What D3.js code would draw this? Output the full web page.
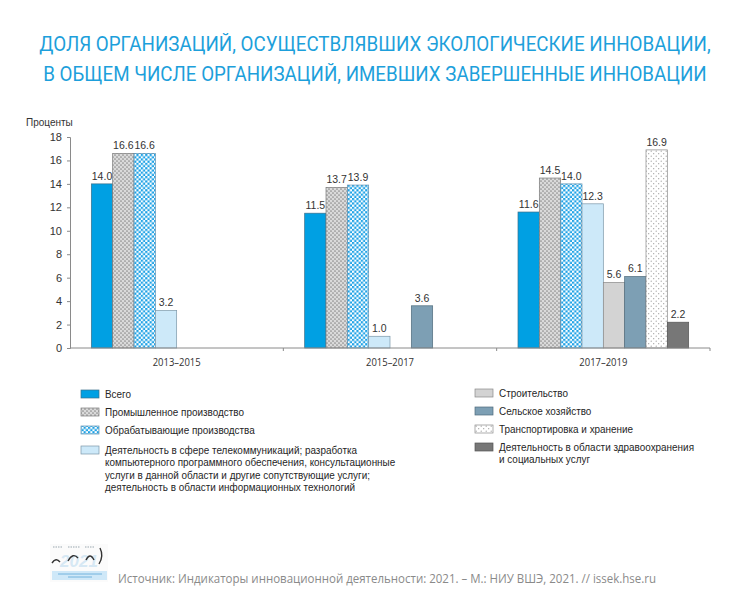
<!DOCTYPE html>
<html><head><meta charset="utf-8">
<script src="https://cdn.jsdelivr.net/npm/d3@7"></script>
<style>body{margin:0;background:#fff}svg{display:block}</style>
</head><body>
<svg id="c" width="750" height="603"></svg>
<script>
const periods = ["2013–2015", "2015–2017", "2017–2019"];
const legendLines = [
  ["Всего"],
  ["Промышленное производство"],
  ["Обрабатывающие производства"],
  ["Деятельность в сфере телекоммуникаций; разработка",
   "компьютерного программного обеспечения, консультационные",
   "услуги в данной области и другие сопутствующие услуги;",
   "деятельность в области информационных технологий"],
  ["Строительство"],
  ["Сельское хозяйство"],
  ["Транспортировка и хранение"],
  ["Деятельность в области здравоохранения", "и социальных услуг"]
];
// values per series, per period (null = no bar)
const vTotal     = [14.0, 11.5, 11.6];
const vIndustry  = [16.6, 13.7, 14.5];
const vManuf     = [16.6, 13.9, 14.0];
const vTelecom   = [3.2, 1.0, 12.3];
const vBuild     = [null, null, 5.6];
const vAgri      = [null, 3.6, 6.1];
const vTransport = [null, null, 16.9];
const vHealth    = [null, null, 2.2];
const seriesValues = [vTotal, vIndustry, vManuf, vTelecom, vBuild, vAgri, vTransport, vHealth];
const yTicks = [0, 2, 4, 6, 8, 10, 12, 14, 16, 18];

const svg = d3.select("#c");
const defs = svg.append("defs");

// patterns
const pInd = defs.append("pattern").attr("id","pInd").attr("patternUnits","userSpaceOnUse").attr("width",4).attr("height",4);
pInd.append("rect").attr("width",4).attr("height",4).attr("fill","#dadada");
pInd.append("circle").attr("cx",1).attr("cy",1).attr("r",0.85).attr("fill","#8c8c8c");
pInd.append("circle").attr("cx",3).attr("cy",3).attr("r",0.85).attr("fill","#8c8c8c");

const pMan = defs.append("pattern").attr("id","pMan").attr("patternUnits","userSpaceOnUse").attr("width",4.4).attr("height",4.4);
pMan.append("rect").attr("width",4.4).attr("height",4.4).attr("fill","#ffffff");
pMan.append("rect").attr("width",2.2).attr("height",2.2).attr("fill","#1ea2e6");
pMan.append("rect").attr("x",2.2).attr("y",2.2).attr("width",2.2).attr("height",2.2).attr("fill","#1ea2e6");

const pTr = defs.append("pattern").attr("id","pTr").attr("patternUnits","userSpaceOnUse").attr("width",5).attr("height",5);
pTr.append("rect").attr("width",5).attr("height",5).attr("fill","#ffffff");
pTr.append("circle").attr("cx",1.2).attr("cy",1.2).attr("r",0.6).attr("fill","#9a9a9a");
pTr.append("circle").attr("cx",3.7).attr("cy",3.7).attr("r",0.6).attr("fill","#9a9a9a");

const fills = ["#00a0e3", "url(#pInd)", "url(#pMan)", "#cde9f9", "#d3d3d3", "#7d9fb4", "url(#pTr)", "#777777"];
const strokes = ["#3b6f8a", "#7a7a7a", "#5b8fb0", "#7c97a8", "#8a8a8a", "#4f6b7c", "#8a8a8a", "#555555"];

function condense(sel, f){
  sel.each(function(){ const w = this.getComputedTextLength(); d3.select(this).attr("textLength", w*f).attr("lengthAdjust","spacingAndGlyphs"); });
}

// title (horizontally scaled to match the condensed original face)
const titleLines = ["ДОЛЯ ОРГАНИЗАЦИЙ, ОСУЩЕСТВЛЯВШИХ ЭКОЛОГИЧЕСКИЕ ИННОВАЦИИ,", "В ОБЩЕМ ЧИСЛЕ ОРГАНИЗАЦИЙ, ИМЕВШИХ ЗАВЕРШЕННЫЕ ИННОВАЦИИ"];
const titleW = [672, 664];
svg.selectAll("text.title").data(titleLines).join("text").attr("class","title")
  .attr("x",0).attr("y",0).attr("text-anchor","middle")
  .attr("font-family","Roboto").attr("font-size",20).attr("fill","#1d9fdb")
  .text(d=>d)
  .each(function(d,i){
    const w = this.getComputedTextLength();
    d3.select(this).attr("transform", `translate(375,${51+i*30}) scale(${titleW[i]/w},1)`);
  });

// scales
const x0 = d3.scaleBand().domain(periods).range([70, 710]).padding(0);
const bw = x0.bandwidth();
const x1 = d3.scaleBand().domain(d3.range(8)).range([bw/10, bw*9/10]).padding(0);
const y = d3.scaleLinear().domain([0, 18]).range([348, 137]);

// y axis
const ya = svg.append("g").attr("transform","translate(70,0)")
  .call(d3.axisLeft(y).tickValues(yTicks).tickSize(3).tickPadding(5).tickFormat(d3.format("d")));
ya.select(".domain").attr("stroke","#8a8a8a");
ya.selectAll(".tick line").attr("stroke","#8a8a8a");
ya.selectAll("text").attr("font-family","Liberation Sans").attr("font-size",11).attr("fill","#333");

svg.append("text").attr("x",26).attr("y",126).attr("font-family","Liberation Sans").attr("font-size",10).attr("fill","#333").text("Проценты");

// bars
const flat = [];
seriesValues.forEach((arr, s) => arr.forEach((v, p) => { if (v !== null) flat.push({s, p, v}); }));
const bars = svg.append("g");
bars.selectAll("rect").data(flat).join("rect")
  .attr("x", d => x0(periods[d.p]) + x1(d.s))
  .attr("y", d => y(d.v))
  .attr("width", x1.bandwidth())
  .attr("height", d => y(0) - y(d.v))
  .attr("fill", d => fills[d.s])
  .attr("stroke", d => strokes[d.s]).attr("stroke-width", 0.7);
bars.selectAll("text").data(flat).join("text")
  .attr("x", d => x0(periods[d.p]) + x1(d.s) + x1.bandwidth()/2)
  .attr("y", d => y(d.v) - 4)
  .attr("text-anchor","middle").attr("font-family","Liberation Sans").attr("font-size",10.5).attr("fill","#333")
  .text(d => d3.format(".1f")(d.v));

// x axis
const xa = svg.append("g").attr("transform","translate(0,348)");
xa.append("line").attr("x1",70).attr("x2",710).attr("stroke","#8a8a8a");
xa.selectAll("line.t").data(periods).join("line").attr("class","t")
  .attr("x1", d => x0(d)+bw).attr("x2", d => x0(d)+bw).attr("y1",0).attr("y2",3).attr("stroke","#8a8a8a");
xa.selectAll("text").data(periods).join("text")
  .attr("x", d => x0(d)+bw/2).attr("y", 18).attr("text-anchor","middle")
  .attr("font-family","Open Sans").attr("font-size",10.5).attr("fill","#333").text(d => d)
  .call(condense, 0.9);

// legend
const legPos = [
  {x:81, y:394}, {x:81, y:412}, {x:81, y:430}, {x:81, y:450},
  {x:475, y:393}, {x:475, y:411}, {x:475, y:429}, {x:475, y:447}
];
const leg = svg.append("g");
let legFactor = 1;
legendLines.forEach((lines, i) => {
  const p = legPos[i];
  leg.append("rect").attr("x",p.x).attr("y",p.y-4).attr("width",18).attr("height",8)
    .attr("fill",fills[i]).attr("stroke",strokes[i]).attr("stroke-width",0.7);
  leg.selectAll(null).data(lines).join("text").attr("class","lt")
    .attr("x", p.x+24).attr("y",(d,j)=>p.y+4+j*12.4)
    .attr("font-family","Liberation Sans").attr("font-size",11).attr("fill","#262626").text(d=>d);
});
// condense all legend text so the long telecom line spans like the original
{
  const ref = leg.selectAll("text.lt").filter(d => d === legendLines[3][0]).node();
  legFactor = 252 / ref.getComputedTextLength();
  leg.selectAll("text.lt").call(condense, legFactor);
}

// logo (small cover thumbnail)
const logo = svg.append("g").attr("transform","translate(50,544)");
logo.append("rect").attr("x",0).attr("y",0).attr("width",58).attr("height",38).attr("fill","#fbfbfb");
logo.append("text").attr("x",29).attr("y",23).attr("text-anchor","middle").attr("font-family","Liberation Sans").attr("font-size",17).attr("font-weight","bold").attr("font-style","italic").attr("fill","#d6e8f4").text("2021");
logo.append("path").attr("d","M3,3 h10 M18,3 h12 M35,3 h10").attr("stroke","#9aa7b0").attr("stroke-width",1.2).attr("stroke-dasharray","1.5,1");
logo.append("path").attr("d","M2,19 q4,-6 8,-1 M18,17 q5,-9 10,-3 M36,16 q4,-8 8,0 M50,4 q4,8 -1,16")
  .attr("fill","none").attr("stroke","#333").attr("stroke-width",1.4);
logo.append("rect").attr("x",2).attr("y",27).attr("width",55).attr("height",9).attr("fill","#cfe8f8");
logo.append("path").attr("d","M8,30 h44 M18,33 h24").attr("stroke","#5aa6d6").attr("stroke-width",0.8);

svg.append("text").attr("x",118).attr("y",583).attr("font-family","Open Sans").attr("font-size",12.5).attr("fill","#8a8a8a")
  .text("Источник: Индикаторы инновационной деятельности: 2021. – М.: НИУ ВШЭ, 2021. // issek.hse.ru")
  .attr("textLength",538).attr("lengthAdjust","spacingAndGlyphs");
</script>
</body></html>
